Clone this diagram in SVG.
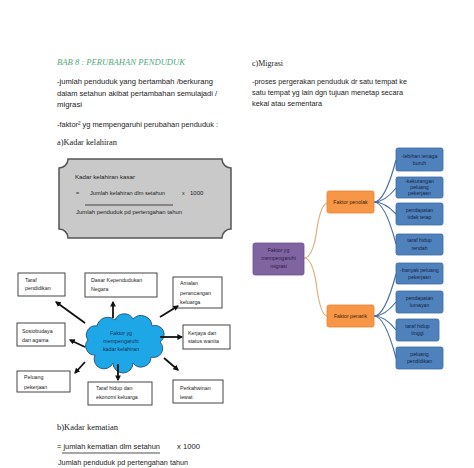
<svg xmlns="http://www.w3.org/2000/svg" width="474" height="468" viewBox="0 0 474 468">
<style>
.t{font-family:"Liberation Sans",Arial,sans-serif;font-size:8px;fill:#222}
.s{font-family:"Liberation Serif","Times New Roman",serif;font-size:8px;fill:#222}
.sm{font-family:"Liberation Sans",Arial,sans-serif;font-size:5.3px;fill:#222}
.bx{fill:#fff;stroke:#444;stroke-width:1}
.ar{stroke:#111;stroke-width:1.8;fill:none;marker-end:url(#ah)}
.blue{fill:#4f81bd;stroke:#3d6ba3;stroke-width:0.8}
.org{fill:#f79646;stroke:#e8832e;stroke-width:0.8}
.pur{fill:#8064a2;stroke:#6b5090;stroke-width:0.8}
.bt{font-family:"Liberation Sans",Arial,sans-serif;font-size:5.2px;fill:#17243f;text-anchor:middle}
.cl{stroke:#4a6fa5;stroke-width:1.2;fill:none}
.ol{stroke:#e0ad78;stroke-width:1.2;fill:none}
</style>
<defs>
<marker id="ah" viewBox="0 0 10 10" refX="8" refY="5" markerWidth="3.2" markerHeight="3.2" orient="auto" markerUnits="strokeWidth">
<path d="M0,0 L10,5 L0,10 Z" fill="#111"/>
</marker>
</defs>
<rect width="474" height="468" fill="#fff"/>

<g id="left-text">
<text class="s" x="57" y="65" textLength="128" lengthAdjust="spacingAndGlyphs" style="font-style:italic;fill:#4fa87c;font-size:7.5px">BAB 8 : PERUBAHAN PENDUDUK</text>
<text class="t" x="57" y="84" textLength="156" lengthAdjust="spacingAndGlyphs">-jumlah penduduk yang bertambah /berkurang</text>
<text class="t" x="57" y="96" textLength="160" lengthAdjust="spacingAndGlyphs">dalam setahun akibat pertambahan semulajadi /</text>
<text class="t" x="57" y="107" textLength="25" lengthAdjust="spacingAndGlyphs">migrasi</text>
<text class="t" x="57" y="127" textLength="161" lengthAdjust="spacingAndGlyphs">-faktor² yg mempengaruhi perubahan penduduk :</text>
<text class="s" x="57" y="145" textLength="60" lengthAdjust="spacingAndGlyphs">a)Kadar  kelahiran</text>
</g>

<g id="right-text">
<text class="s" x="252" y="66" textLength="31" lengthAdjust="spacingAndGlyphs">c)Migrasi</text>
<text class="t" x="252" y="84" textLength="155" lengthAdjust="spacingAndGlyphs">-proses pergerakan penduduk dr satu tempat ke</text>
<text class="t" x="252" y="95" textLength="151" lengthAdjust="spacingAndGlyphs">satu tempat yg lain dgn tujuan menetap secara</text>
<text class="t" x="252" y="106" textLength="70" lengthAdjust="spacingAndGlyphs">kekal atau sementara</text>
</g>

<g id="plaque">
<path d="M68,159 L222,159 A9,9 0 0 0 231,168 L231,229 A9,9 0 0 0 222,238 L68,238 A9,9 0 0 0 59,229 L59,168 A9,9 0 0 0 68,159 Z" fill="#c9c9c9" stroke="#555" stroke-width="1.5"/>
<text class="sm" x="75" y="179" textLength="60" lengthAdjust="spacingAndGlyphs" style="font-size:6px">Kadar kelahiran kasar</text>
<text class="sm" x="76" y="195">=</text>
<text class="sm" x="90" y="195" textLength="75" lengthAdjust="spacingAndGlyphs">Jumlah kelahiran dlm setahun</text>
<text class="sm" x="182" y="195">x</text>
<text class="sm" x="190" y="195" style="font-size:6px">1000</text>
<line x1="85" y1="205" x2="173" y2="205" stroke="#333" stroke-width="0.9"/>
<text class="sm" x="76" y="214" textLength="106" lengthAdjust="spacingAndGlyphs">Jumlah penduduk pd pertengahan tahun</text>
</g>

<g id="cloud">
<path d="M95,355 A9,9 0 0 1 88,340 A9,9 0 0 1 97,326 A11,11 0 0 1 115,320 A10,10 0 0 1 133,319 A11,11 0 0 1 152,326 A9,9 0 0 1 160,342 A9,9 0 0 1 151,357 A10,10 0 0 1 133,363 A10,10 0 0 1 113,363 A9,9 0 0 1 95,355 Z" fill="#1ea7e6" stroke="#2a5a8c" stroke-width="1"/>
<text class="sm" x="121" y="335" text-anchor="middle" style="fill:#1b2f55">Faktor yg</text>
<text class="sm" x="121" y="343" text-anchor="middle" style="fill:#1b2f55">mempengaruhi</text>
<text class="sm" x="121" y="351" text-anchor="middle" style="fill:#1b2f55">kadar kelahiran</text>
</g>

<g id="n-taraf-pendidikan"><rect class="bx" x="18" y="273" width="47" height="23"/>
<text class="sm" x="25" y="282">Taraf</text><text class="sm" x="25" y="290">pendidikan</text></g>
<g id="n-dasar"><rect class="bx" x="85" y="273" width="72" height="24"/>
<text class="sm" x="91" y="282">Dasar Kependudukan</text><text class="sm" x="91" y="291">Negara</text></g>
<g id="n-amalan"><rect class="bx" x="173" y="277" width="49" height="31"/>
<text class="sm" x="180" y="285">Amalan</text><text class="sm" x="180" y="295">perancangan</text><text class="sm" x="180" y="304">keluarga</text></g>
<g id="n-sosio"><rect class="bx" x="17" y="323" width="48" height="23"/>
<text class="sm" x="22" y="333">Sosiobudaya</text><text class="sm" x="22" y="342">dan agama</text></g>
<g id="n-kerjaya"><rect class="bx" x="183" y="325" width="47" height="24"/>
<text class="sm" x="188" y="335">Kerjaya dan</text><text class="sm" x="188" y="343">status wanita</text></g>
<g id="n-peluang"><rect class="bx" x="17" y="371" width="53" height="21"/>
<text class="sm" x="24" y="379">Peluang</text><text class="sm" x="24" y="389">pekerjaan</text></g>
<g id="n-taraf-hidup"><rect class="bx" x="88" y="382" width="64" height="23"/>
<text class="sm" x="96" y="390">Taraf hidup dan</text><text class="sm" x="96" y="399">ekonomi keluarga</text></g>
<g id="n-perkahwinan"><rect class="bx" x="173" y="380" width="50" height="23"/>
<text class="sm" x="180" y="390">Perkahwinan</text><text class="sm" x="180" y="399">lewat</text></g>

<g id="arrows">
<line class="ar" x1="85" y1="323" x2="56" y2="302"/>
<line class="ar" x1="113" y1="318" x2="113" y2="302"/>
<line class="ar" x1="160" y1="317" x2="178" y2="306"/>
<line class="ar" x1="160" y1="337" x2="182" y2="337"/>
<line class="ar" x1="85" y1="347" x2="70" y2="340"/>
<line class="ar" x1="85" y1="362" x2="75" y2="373"/>
<line class="ar" x1="118" y1="364" x2="118" y2="380"/>
<line class="ar" x1="164" y1="358" x2="178" y2="370"/>
</g>

<g id="migrasi-connectors">
<path class="ol" d="M304,258 Q312,258 316,235 Q320,205 327,203"/>
<path class="ol" d="M304,258 Q312,258 316,282 Q320,315 327,316"/>
<path class="cl" d="M374,202 Q385,202 396,160"/>
<path class="cl" d="M374,202 Q385,202 396,188"/>
<path class="cl" d="M374,202 Q385,202 396,214"/>
<path class="cl" d="M374,202 Q385,202 396,244"/>
<path class="cl" d="M374,316 Q385,316 396,274"/>
<path class="cl" d="M374,316 Q385,316 396,302"/>
<path class="cl" d="M374,316 Q385,316 396,330"/>
<path class="cl" d="M374,316 Q385,316 396,358"/>
</g>

<g id="n-migrasi"><rect class="pur" x="253" y="243" width="51" height="32" rx="2"/>
<text class="bt" x="278.5" y="252" style="fill:#2a1d40">Faktor yg</text>
<text class="bt" x="278.5" y="260" style="fill:#2a1d40">mempengaruhi</text>
<text class="bt" x="278.5" y="268" style="fill:#2a1d40">migrasi</text></g>
<g id="n-penolak"><rect class="org" x="327" y="191" width="47" height="22" rx="2"/>
<text class="bt" x="350.5" y="204" style="fill:#3a2410">Faktor penolak</text></g>
<g id="n-penarik"><rect class="org" x="327" y="305" width="47" height="22" rx="2"/>
<text class="bt" x="350.5" y="318" style="fill:#3a2410">Faktor penarik</text></g>

<g id="n-b1"><rect class="blue" x="396" y="148" width="47" height="23" rx="2"/>
<text class="bt" x="419.5" y="158">-lebihan tenaga</text><text class="bt" x="419.5" y="165">buruh</text></g>
<g id="n-b2"><rect class="blue" x="396" y="177" width="47" height="21" rx="2"/>
<text class="bt" x="419.5" y="183">-kekurangan</text><text class="bt" x="419.5" y="189">peluang</text><text class="bt" x="419.5" y="195">pekerjaan</text></g>
<g id="n-b3"><rect class="blue" x="396" y="203" width="47" height="22" rx="2"/>
<text class="bt" x="419.5" y="212">pendapatan</text><text class="bt" x="419.5" y="219">tidak tetap</text></g>
<g id="n-b4"><rect class="blue" x="396" y="234" width="47" height="21" rx="2"/>
<text class="bt" x="419.5" y="242">taraf hidup</text><text class="bt" x="419.5" y="250">rendah</text></g>
<g id="n-b5"><rect class="blue" x="396" y="263" width="47" height="21" rx="2"/>
<text class="bt" x="419.5" y="272">-banyak peluang</text><text class="bt" x="419.5" y="279">pekerjaan</text></g>
<g id="n-b6"><rect class="blue" x="396" y="291" width="47" height="22" rx="2"/>
<text class="bt" x="419.5" y="300">pendapatan</text><text class="bt" x="419.5" y="307">lumayan</text></g>
<g id="n-b7"><rect class="blue" x="396" y="319" width="43" height="22" rx="2"/>
<text class="bt" x="417.5" y="328">taraf hidup</text><text class="bt" x="417.5" y="335">tinggi</text></g>
<g id="n-b8"><rect class="blue" x="396" y="347" width="47" height="22" rx="2"/>
<text class="bt" x="419.5" y="356">peluang</text><text class="bt" x="419.5" y="363">pendidikan</text></g>

<g id="bottom-text">
<text class="s" x="57" y="430" textLength="61" lengthAdjust="spacingAndGlyphs">b)Kadar   kematian</text>
<text class="t" x="57" y="449" textLength="103" lengthAdjust="spacingAndGlyphs">= jumlah kematian dlm setahun</text>
<text class="t" x="177" y="449" textLength="23" lengthAdjust="spacingAndGlyphs">x 1000</text>
<line x1="62" y1="453" x2="160" y2="453" stroke="#222" stroke-width="0.8"/>
<text class="t" x="58" y="465" textLength="130" lengthAdjust="spacingAndGlyphs" style="font-size:7.5px">Jumlah penduduk pd pertengahan tahun</text>
</g>
</svg>
